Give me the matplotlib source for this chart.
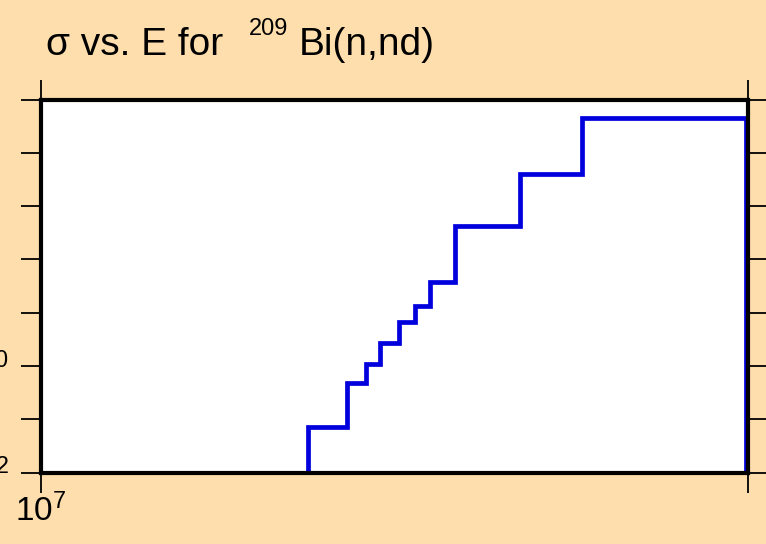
import matplotlib
matplotlib.use('Agg')
import matplotlib.pyplot as plt

# ── 폰트 / 수식 설정 ──
plt.rcParams['font.family'] = ['Liberation Sans', 'DejaVu Sans']
plt.rcParams['mathtext.fontset'] = 'custom'
plt.rcParams['mathtext.rm'] = 'Liberation Sans'
plt.rcParams['mathtext.it'] = 'Liberation Sans:italic'
plt.rcParams['mathtext.default'] = 'regular'

# ── 데이터 ──
energy_edges = [2.39e7, 2.71e7, 2.88e7, 3.02e7, 3.21e7, 3.38e7,
                3.55e7, 3.85e7, 4.77e7, 5.84e7, 9.95e7]
sigma_values = [0.0705, 0.472, 1.07, 2.73, 6.59, 13.3,
                37.6, 428, 3940, 44900]

x_ticks = [1e7, 1e8]
x_tick_labels = ['$10^{7}$', '']
y_ticks = [1e-2, 1e-1, 1e0, 1e1, 1e2, 1e3, 1e4, 1e5]
y_tick_labels = ['$10^{-2}$', '', '$10^{0}$', '', '', '', '', '']

BG = '#FFDEAD'
W, H = 766, 544

fig = plt.figure(figsize=(W / 100, H / 100), dpi=100, facecolor=BG)
ax = fig.add_axes([41 / W, 1 - 472.5 / H, 706.5 / W, 373 / H])
ax.set_facecolor('white')

ax.stairs(sigma_values, energy_edges, baseline=1e-4,
          color='#0000dd', linewidth=3.4)

ax.set_xscale('log')
ax.set_yscale('log')
ax.set_xlim(1e7, 1e8)
ax.set_ylim(1e-2, 1e5)

ax.set_xticks(x_ticks)
ax.set_xticklabels(x_tick_labels)
ax.set_yticks(y_ticks)
ax.set_yticklabels(y_tick_labels)
ax.minorticks_off()

ax.tick_params(axis='both', which='major', direction='out', length=14.5,
               width=1.3, labelsize=24, top=True, right=True)
ax.tick_params(axis='x', pad=1)
ax.tick_params(axis='y', pad=9)

for sp in ax.spines.values():
    sp.set_linewidth(3)

# 제목: 본문 + 윗첨자(209) 조각으로 배치 (x 위치는 px 기준)
fig.text(46 / W, 1 - 55 / H, 'σ vs. E for', fontsize=28,
         ha='left', va='baseline', color='black')
fig.text(249 / W, 1 - 35 / H, '209', fontsize=17,
         ha='left', va='baseline', color='black')
fig.text(299 / W, 1 - 55 / H, 'Bi(n,nd)', fontsize=28,
         ha='left', va='baseline', color='black')

plt.savefig('out.png', dpi=100, facecolor=BG)
plt.close()
